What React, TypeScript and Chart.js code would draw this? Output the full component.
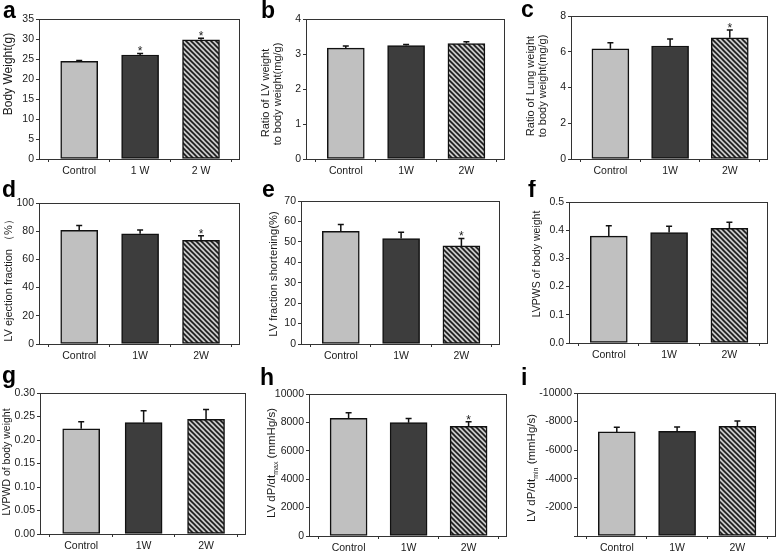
import React, { useEffect, useRef } from 'react';
import { Chart, registerables } from 'chart.js';
Chart.register(...registerables);

// ---------- data ----------
const groups = ['Control', '1W', '2W'];
const groupsA = ['Control', '1 W', '2 W'];

const bodyWeight = [24.4, 26.0, 29.8];
const bodyWeightErr = [0.2, 0.4, 0.4];
const bodyWeightSig = [false, true, true];
const bodyWeightTicks = [0, 5, 10, 15, 20, 25, 30, 35];

const lvRatio = [3.17, 3.24, 3.3];
const lvRatioErr = [0.06, 0.03, 0.05];
const lvRatioSig = [false, false, false];
const lvRatioTicks = [0, 1, 2, 3, 4];

const lungRatio = [6.17, 6.32, 6.78];
const lungRatioErr = [0.33, 0.4, 0.43];
const lungRatioSig = [false, false, true];
const lungRatioTicks = [0, 2, 4, 6, 8];

const ejection = [80.6, 78.2, 73.5];
const ejectionErr = [3.5, 2.6, 3.2];
const ejectionSig = [false, false, true];
const ejectionTicks = [0, 20, 40, 60, 80, 100];

const shortening = [55.1, 51.6, 48.0];
const shorteningErr = [3.4, 3.1, 3.7];
const shorteningSig = [false, false, true];
const shorteningTicks = [0, 10, 20, 30, 40, 50, 60, 70];

const lvpws = [0.379, 0.392, 0.407];
const lvpwsErr = [0.037, 0.022, 0.021];
const lvpwsSig = [false, false, false];
const lvpwsTicks = [0, 0.1, 0.2, 0.3, 0.4, 0.5];

const lvpwd = [0.224, 0.237, 0.244];
const lvpwdErr = [0.015, 0.025, 0.021];
const lvpwdSig = [false, false, false];
const lvpwdTicks = [0, 0.05, 0.1, 0.15, 0.2, 0.25, 0.3];

const dpdtMax = [8280, 7980, 7720];
const dpdtMaxErr = [400, 300, 330];
const dpdtMaxSig = [false, false, true];
const dpdtMaxTicks = [0, 2000, 4000, 6000, 8000, 10000];

const dpdtMin = [-7280, -7320, -7670];
const dpdtMinErr = [320, 300, 370];
const dpdtMinSig = [false, false, false];
const dpdtMinTicks = [-10000, -8000, -6000, -4000, -2000, 0];

// ---------- layout / style ----------
const FONT = '"Liberation Sans", Arial, sans-serif';
const AXIS = '#333333';
const TEXT = '#1a1a1a';

type Seg = { t: string; sub?: boolean };
type Spec = {
  letter: string; cats: string[]; values: number[]; errors: number[]; sig: boolean[];
  ticks: number[]; decimals: number; reverse?: boolean; hideZero?: boolean; titleSize?: number;
  title: Seg[][]; cell: number[]; plot: number[]; titlePos: number[][]; letterPos: number[];
};

const panels: Spec[] = [
  { letter: 'a', cats: groupsA, values: bodyWeight, errors: bodyWeightErr, sig: bodyWeightSig, ticks: bodyWeightTicks, decimals: 0, titleSize: 12,
    title: [[{ t: 'Body Weight(g)' }]], cell: [0, 0, 259, 180], plot: [39, 19, 240, 159], titlePos: [[9, 74]], letterPos: [3, 18] },
  { letter: 'b', cats: groups, values: lvRatio, errors: lvRatioErr, sig: lvRatioSig, ticks: lvRatioTicks, decimals: 0, titleSize: 11,
    title: [[{ t: 'Ratio of LV weight' }], [{ t: 'to body weight(mg/g)' }]], cell: [259, 0, 518, 180], plot: [306, 19, 505, 159], titlePos: [[266, 93], [278, 94]], letterPos: [261, 18] },
  { letter: 'c', cats: groups, values: lungRatio, errors: lungRatioErr, sig: lungRatioSig, ticks: lungRatioTicks, decimals: 0, titleSize: 11,
    title: [[{ t: 'Ratio of Lung weight' }], [{ t: 'to body weight(mg/g)' }]], cell: [518, 0, 778, 180], plot: [571, 16, 768, 159], titlePos: [[531, 86], [543, 86]], letterPos: [521, 17] },
  { letter: 'd', cats: groups, values: ejection, errors: ejectionErr, sig: ejectionSig, ticks: ejectionTicks, decimals: 0, titleSize: 11,
    title: [[{ t: 'LV ejection fraction （%）' }]], cell: [0, 180, 259, 365], plot: [39, 203, 240, 344], titlePos: [[9, 278]], letterPos: [2, 197] },
  { letter: 'e', cats: groups, values: shortening, errors: shorteningErr, sig: shorteningSig, ticks: shorteningTicks, decimals: 0, titleSize: 11.2,
    title: [[{ t: 'LV fraction shortening(%)' }]], cell: [259, 180, 518, 365], plot: [301, 201, 500, 344], titlePos: [[274, 274]], letterPos: [262, 197] },
  { letter: 'f', cats: groups, values: lvpws, errors: lvpwsErr, sig: lvpwsSig, ticks: lvpwsTicks, decimals: 1, titleSize: 10.5,
    title: [[{ t: 'LVPWS of body weight' }]], cell: [518, 180, 778, 365], plot: [569, 202, 768, 343], titlePos: [[537, 264]], letterPos: [528, 197] },
  { letter: 'g', cats: groups, values: lvpwd, errors: lvpwdErr, sig: lvpwdSig, ticks: lvpwdTicks, decimals: 2, titleSize: 10.5,
    title: [[{ t: 'LVPWD of body weight' }]], cell: [0, 365, 259, 554], plot: [40, 393, 246, 534], titlePos: [[7, 462]], letterPos: [2, 383] },
  { letter: 'h', cats: groups, values: dpdtMax, errors: dpdtMaxErr, sig: dpdtMaxSig, ticks: dpdtMaxTicks, decimals: 0, titleSize: 11.5,
    title: [[{ t: 'LV dP/dt' }, { t: 'max', sub: true }, { t: ' (mmHg/s)' }]], cell: [259, 365, 518, 554], plot: [309, 394, 507, 536], titlePos: [[272, 463]], letterPos: [260, 385] },
  { letter: 'i', cats: groups, values: dpdtMin, errors: dpdtMinErr, sig: dpdtMinSig, ticks: dpdtMinTicks, decimals: 0, reverse: true, hideZero: true, titleSize: 11.5,
    title: [[{ t: 'LV dP/dt' }, { t: 'min', sub: true }, { t: ' (mmHg/s)' }]], cell: [518, 365, 778, 554], plot: [577, 393, 776, 536], titlePos: [[532, 468]], letterPos: [521, 385] },
];

function makeHatch(ctx: CanvasRenderingContext2D): CanvasPattern | string {
  const c = document.createElement('canvas');
  const s = 5;
  c.width = s; c.height = s;
  const p = c.getContext('2d');
  if (!p) return '#999';
  p.fillStyle = '#c8c8c8';
  p.fillRect(0, 0, s, s);
  p.strokeStyle = '#1a1a1a';
  p.lineWidth = 1.6;
  p.beginPath();
  for (let k = -1; k <= 1; k++) {
    p.moveTo(k * s - 1, -1);
    p.lineTo(k * s + s + 1, s + 1);
  }
  p.stroke();
  return ctx.createPattern(c, 'repeat') || '#999';
}

function Panel({ spec }: { spec: Spec }) {
  const ref = useRef<HTMLCanvasElement>(null);
  const [cx, cy, cr, cb] = spec.cell;
  const [pl, pt, pr, pb] = spec.plot;
  useEffect(() => {
    const canvas = ref.current;
    if (!canvas) return;
    const ctx0 = canvas.getContext('2d') as CanvasRenderingContext2D;
    const hatch = makeHatch(ctx0);

    const decor = {
      id: 'decor',
      afterDatasetsDraw(chart: any) {
        const { ctx, chartArea: a, scales } = chart;
        const xs = scales.x, ys = scales.y;
        ctx.save();
        // error bars
        ctx.strokeStyle = '#111';
        ctx.lineWidth = 1.5;
        spec.values.forEach((v, i) => {
          const xc = xs.getPixelForValue(i + 1);
          const sign = v < 0 ? -1 : 1;
          const y0 = ys.getPixelForValue(v);
          const y1 = ys.getPixelForValue(v + sign * spec.errors[i]);
          ctx.beginPath();
          ctx.moveTo(xc, y0);
          ctx.lineTo(xc, y1);
          ctx.moveTo(xc - 3, y1);
          ctx.lineTo(xc + 3, y1);
          ctx.stroke();
          if (spec.sig[i]) {
            ctx.fillStyle = TEXT;
            ctx.font = `12px ${FONT}`;
            ctx.textAlign = 'center';
            ctx.textBaseline = 'alphabetic';
            ctx.fillText('*', xc, y1 + 2);
          }
        });
        // frame
        ctx.strokeStyle = AXIS;
        ctx.lineWidth = 1;
        ctx.strokeRect(a.left + 0.5, a.top + 0.5, a.right - a.left - 1, a.bottom - a.top);
        // titles
        ctx.fillStyle = TEXT;
        const size = spec.titleSize || 12;
        spec.title.forEach((line, li) => {
          const [tx, ty] = spec.titlePos[li];
          const mainFont = `${size}px ${FONT}`;
          const subFont = `7px ${FONT}`;
          let total = 0;
          line.forEach((sg) => { ctx.font = sg.sub ? subFont : mainFont; total += ctx.measureText(sg.t).width; });
          ctx.save();
          ctx.translate(tx - cx, ty - cy);
          ctx.rotate(-Math.PI / 2);
          ctx.textAlign = 'left';
          ctx.textBaseline = 'middle';
          let px = -total / 2;
          line.forEach((sg) => {
            ctx.font = sg.sub ? subFont : mainFont;
            ctx.fillText(sg.t, px, sg.sub ? 4 : 0);
            px += ctx.measureText(sg.t).width;
          });
          ctx.restore();
        });
        // panel letter
        ctx.font = `bold 23px ${FONT}`;
        ctx.textAlign = 'left';
        ctx.textBaseline = 'alphabetic';
        ctx.fillStyle = '#000';
        ctx.fillText(spec.letter, spec.letterPos[0] - cx, spec.letterPos[1] - cy);
        ctx.restore();
      },
    };

    const tickFont = { family: FONT, size: 10.5 };
    const chart = new Chart(canvas, {
      type: 'bar',
      data: {
        datasets: [{
          data: spec.values.map((v, i) => ({ x: i + 1, y: v })) as any,
          backgroundColor: ['#c0c0c0', '#3d3d3d', hatch] as any,
          borderColor: '#111',
          borderWidth: 1.5,
          borderSkipped: false,
          barThickness: 37,
        }],
      },
      options: {
        responsive: false,
        animation: false,
        devicePixelRatio: 1,
        events: [],
        layout: { padding: { left: 0, top: pt - cy, right: cr - pr, bottom: 0 } },
        plugins: { legend: { display: false }, tooltip: { enabled: false }, title: { display: false } },
        scales: {
          x: {
            type: 'linear', min: 0.34, max: 3.64, offset: false,
            afterBuildTicks: (s: any) => { s.ticks = [1, 2, 3].map((v) => ({ value: v })); },
            afterFit: (s: any) => { s.height = cb - pb; },
            ticks: { callback: (v: any) => spec.cats[Math.round(Number(v)) - 1], font: tickFont, color: TEXT, padding: 3, maxRotation: 0, autoSkip: false },
            grid: { display: true, drawOnChartArea: false, drawTicks: true, tickLength: 3, color: AXIS },
            border: { display: false },
          },
          y: {
            type: 'linear',
            min: Math.min(...spec.ticks), max: Math.max(...spec.ticks), reverse: !!spec.reverse,
            afterBuildTicks: (s: any) => { s.ticks = spec.ticks.map((v) => ({ value: v })); },
            afterFit: (s: any) => { s.width = pl - cx; },
            ticks: {
              callback: (v: any) => (spec.hideZero && Number(v) === 0 ? '' : Number(v).toFixed(spec.decimals)),
              font: tickFont, color: TEXT, padding: 2, autoSkip: false,
            },
            grid: { display: true, drawOnChartArea: false, drawTicks: true, tickLength: 3, color: AXIS },
            border: { display: false },
          },
        },
      } as any,
      plugins: [decor],
    });
    return () => chart.destroy();
  }, []);
  return (
    <canvas ref={ref} width={cr - cx} height={cb - cy}
      style={{ position: 'absolute', left: cx, top: cy, width: cr - cx, height: cb - cy }} />
  );
}

export default function App() {
  return (
    <div style={{ position: 'absolute', left: 0, top: 0, width: 778, height: 554, background: '#fff', overflow: 'hidden' }}>
      {panels.map((p) => <Panel key={p.letter} spec={p} />)}
    </div>
  );
}
